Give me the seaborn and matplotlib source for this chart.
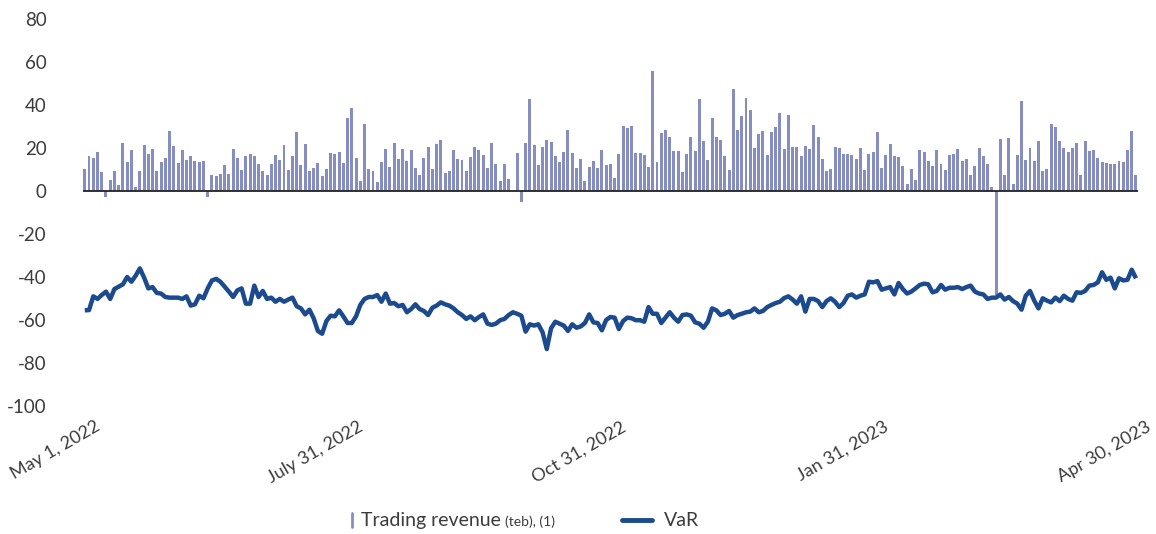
import numpy as np
import pandas as pd
import matplotlib
matplotlib.use('Agg')
import matplotlib.pyplot as plt
import matplotlib.transforms as mtransforms
from matplotlib.lines import Line2D
import seaborn as sns

# daily trading revenue (bars), one value per trading day, May 2022 - Apr 2023
revenue = [
    10.2, 16.3, 15.3, 18.1, 8.8, -2.8, 5.1, 9.3, 2.8, 22.3,
    13.5, 19.1, 1.9, 9.3, 21.4, 17.2, 19.5, 9.3, 13.5, 15.3,
    27.9, 20.9, 13.0, 19.1, 14.4, 16.3, 14.0, 13.5, 14.0, -2.8,
    7.4, 7.0, 7.9, 12.1, 7.9, 19.5, 15.3, 9.8, 16.3, 17.2,
    16.3, 12.7, 9.5, 7.6, 12.7, 16.9, 14.6, 21.6, 9.9, 16.4,
    27.6, 12.2, 22.0, 9.5, 10.9, 13.2, 7.1, 10.4, 17.8, 17.4,
    18.3, 13.2, 34.1, 38.8, 15.5, 4.8, 31.3, 10.4, 9.5, 4.3,
    13.6, 19.7, 11.3, 22.5, 15.0, 19.7, 14.1, 19.2, 10.9, 7.6,
    15.5, 20.6, 10.4, 21.9, 23.7, 8.4, 9.3, 19.1, 14.9, 14.4,
    9.3, 15.8, 20.5, 19.1, 16.7, 10.7, 22.3, 12.6, 4.7, 12.6,
    5.6, 0.0, 17.7, -5.1, 22.3, 42.8, 21.4, 12.1, 20.5, 23.7,
    22.8, 16.3, 13.5, 18.1, 28.4, 17.7, 10.7, 14.9, 4.7, 11.2,
    14.0, 10.7, 19.1, 12.1, 12.6, 6.0, 17.2, 30.2, 29.3, 30.2,
    17.7, 17.7, 16.7, 11.2, 55.8, 13.5, 27.0, 28.4, 25.1, 18.6,
    18.6, 8.8, 17.2, 25.1, 18.6, 42.8, 23.3, 14.4, 34.0, 25.1,
    23.7, 16.3, 9.8, 47.4, 28.4, 34.9, 43.3, 37.7, 20.0, 26.5,
    27.9, 16.7, 27.4, 29.8, 36.3, 19.5, 35.2, 20.5, 20.5, 16.3,
    20.9, 19.5, 30.7, 25.1, 14.9, 9.3, 10.2, 20.5, 20.0, 17.2,
    17.2, 16.7, 14.9, 20.0, 9.8, 17.2, 18.1, 27.4, 10.7, 16.7,
    21.9, 16.3, 15.8, 11.6, 3.3, 10.2, 5.1, 19.1, 18.1, 14.0,
    11.6, 19.1, 12.6, 9.8, 16.7, 17.2, 19.5, 14.0, 14.9, 7.4,
    11.6, 20.0, 16.3, 12.6, 1.9, -48.5, 24.2, 7.4, 24.7, 3.3,
    16.7, 41.9, 14.4, 20.0, 14.0, 23.3, 9.3, 10.2, 31.2, 29.8,
    23.3, 20.0, 18.1, 20.0, 22.3, 7.4, 23.3, 18.6, 19.1, 15.3,
    13.5, 13.0, 12.6, 12.6, 14.0, 13.5, 19.1, 27.9, 7.4,
]

# daily VaR (line)
var_values = [
    -55.5, -55.4, -49.0, -50.2, -48.4, -46.8, -50.2, -45.6, -44.5, -43.4,
    -40.0, -42.2, -39.4, -36.0, -40.3, -45.3, -44.7, -47.4, -47.7, -49.3,
    -49.6, -49.6, -49.6, -50.2, -49.0, -53.3, -52.7, -48.7, -49.9, -45.3,
    -41.6, -40.9, -42.2, -44.5, -46.8, -49.3, -46.2, -45.3, -52.4, -52.4,
    -44.0, -49.3, -46.5, -50.2, -49.6, -51.5, -50.2, -51.5, -50.5, -49.6,
    -53.6, -54.6, -57.4, -55.2, -59.2, -65.1, -66.4, -60.5, -58.0, -58.3,
    -55.5, -58.3, -61.4, -61.4, -58.3, -53.0, -50.2, -49.3, -49.3, -48.4,
    -51.5, -47.7, -52.4, -52.1, -53.6, -53.0, -56.4, -54.9, -52.7, -54.9,
    -55.8, -57.7, -54.3, -53.3, -51.8, -52.7, -53.3, -54.6, -56.4, -57.7,
    -59.5, -58.3, -60.1, -58.6, -57.4, -61.7, -62.3, -61.7, -60.1, -59.5,
    -57.7, -56.4, -57.1, -58.0, -65.4, -62.0, -62.6, -62.0, -65.7, -73.5,
    -63.9, -60.8, -61.7, -62.6, -65.1, -62.0, -63.6, -63.0, -61.4, -57.4,
    -61.1, -61.4, -64.8, -60.0, -58.6, -58.9, -64.2, -60.5, -58.9, -59.2,
    -60.1, -60.1, -60.8, -54.0, -57.1, -57.1, -61.4, -58.9, -56.4, -58.9,
    -60.8, -57.7, -57.4, -58.0, -61.1, -61.7, -63.6, -60.8, -54.6, -55.5,
    -57.7, -57.1, -55.8, -58.9, -57.7, -57.1, -56.4, -56.1, -54.6, -56.4,
    -55.8, -54.0, -53.0, -52.1, -51.5, -49.8, -49.0, -50.5, -52.4, -49.0,
    -56.1, -50.2, -50.2, -51.2, -54.0, -51.2, -49.9, -51.5, -54.0, -52.1,
    -48.7, -48.1, -49.6, -48.7, -48.1, -42.2, -42.5, -41.9, -45.9, -45.3,
    -44.7, -48.1, -42.8, -45.6, -47.7, -46.8, -45.3, -43.7, -43.1, -43.4,
    -47.1, -46.5, -43.7, -45.9, -45.0, -45.0, -44.7, -45.6, -44.7, -44.0,
    -46.8, -47.7, -48.1, -50.2, -49.6, -49.6, -48.1, -50.5, -49.3, -51.2,
    -52.4, -55.2, -48.7, -46.5, -51.0, -54.6, -49.9, -51.0, -51.8, -49.6,
    -51.2, -48.7, -50.2, -51.0, -47.1, -47.4, -46.5, -44.0, -43.7, -42.5,
    -37.8, -41.3, -40.3, -45.3, -40.6, -41.6, -41.3, -36.6, -40.6,
]

date_labels = ['May 1, 2022', 'July 31, 2022', 'Oct 31, 2022', 'Jan 31, 2023', 'Apr 30, 2023']

BAR_COLOR = '#868DC0'
LINE_COLOR = '#1B4A8E'
TEXT_COLOR = '#3c3c3c'

sns.set_theme(style='white')
plt.rcParams['font.family'] = ['Lato', 'DejaVu Sans']
plt.rcParams['axes.unicode_minus'] = False

if len(revenue) != len(var_values):
    raise ValueError(f"length mismatch: {len(revenue)} vs {len(var_values)}")

df = pd.DataFrame({'day': np.arange(len(revenue)), 'revenue': revenue, 'var': var_values})
n = len(df)

fig = plt.figure(figsize=(11.56, 5.34), dpi=100)
ax = fig.add_axes([0.0715, 0.2397, 0.913, 0.7247])

sns.barplot(data=df, x='day', y='revenue', color=BAR_COLOR, saturation=1,
            width=0.7, linewidth=0, edgecolor=BAR_COLOR, ax=ax, zorder=2)
sns.lineplot(data=df, x='day', y='var', color=LINE_COLOR, linewidth=3.2,
             ax=ax, zorder=3, solid_joinstyle='round', solid_capstyle='butt')
ax.axhline(0, color='#222222', lw=1.3, zorder=4)

ax.set_xlim(-0.5, n - 0.5)
ax.set_ylim(-100, 80)
ax.set_yticks(range(-100, 81, 20))
ax.set_xticks(np.linspace(0, n - 1, len(date_labels)))
ax.set_xticklabels(date_labels)
ax.set_xlabel('')
ax.set_ylabel('')
for s in ax.spines.values():
    s.set_visible(False)
ax.tick_params(axis='both', length=0, labelsize=13.5, labelcolor=TEXT_COLOR)
ax.tick_params(axis='y', pad=26)
ax.tick_params(axis='x', pad=9, labelsize=13)

offset = mtransforms.ScaledTranslation(7 / 72, 0, fig.dpi_scale_trans)
for lab in ax.get_xticklabels():
    lab.set_rotation(30)
    lab.set_ha('right')
    lab.set_va('top')
    lab.set_rotation_mode('anchor')
    lab.set_transform(lab.get_transform() + offset)

# legend drawn by hand to get the small "(teb), (1)" part
W, H = 1156, 534
fig.add_artist(Line2D([352 / W, 352 / W], [1 - 527 / H, 1 - 513 / H],
                      color=BAR_COLOR, lw=2, transform=fig.transFigure))
t1 = fig.text(361 / W, 1 - 526 / H, 'Trading revenue', fontsize=14,
              color=TEXT_COLOR, va='baseline', ha='left')
fig.canvas.draw()
bb = t1.get_window_extent(fig.canvas.get_renderer())
fig.text((bb.x1 + 4) / W, 1 - 526 / H, '(teb), (1)', fontsize=10,
         color=TEXT_COLOR, va='baseline', ha='left')
fig.add_artist(Line2D([622 / W, 652 / W], [1 - 520 / H, 1 - 520 / H],
                      color=LINE_COLOR, lw=3.5, transform=fig.transFigure))
fig.text(664 / W, 1 - 526 / H, 'VaR', fontsize=14, color=TEXT_COLOR,
         va='baseline', ha='left')

fig.savefig('out.png', dpi=100)
plt.close(fig)
